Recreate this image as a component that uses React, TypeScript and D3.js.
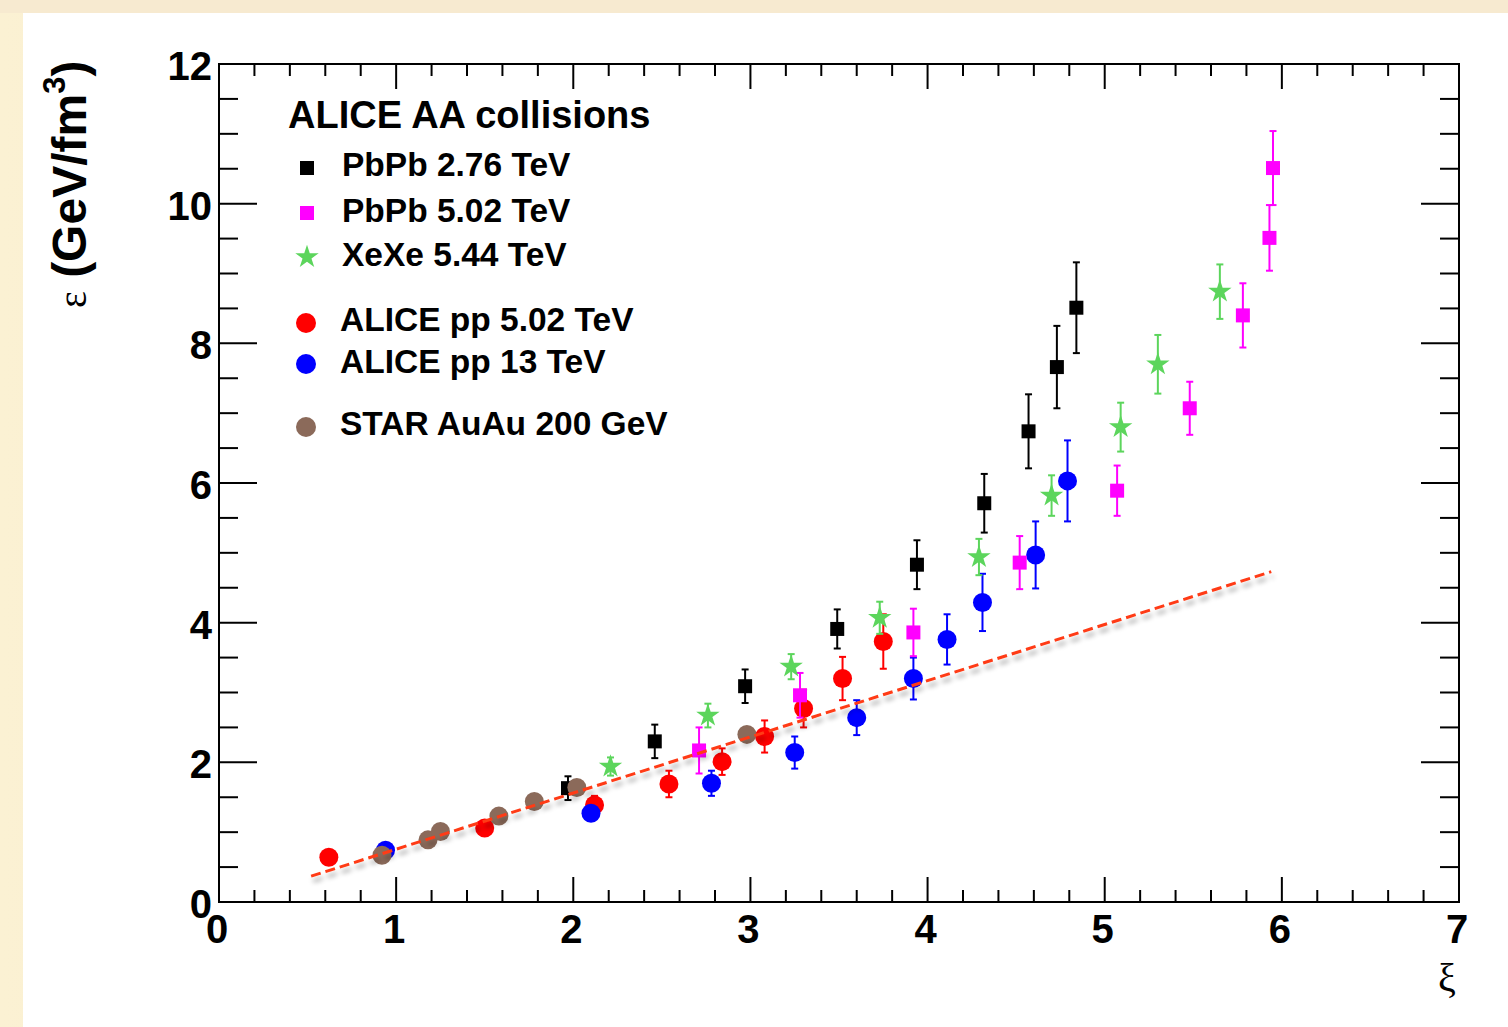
import React from 'react';
import * as d3 from 'd3';

// PbPb 2.76 TeV (black squares)
const pbpb276X = [1.97, 2.46, 2.97, 3.49, 3.94, 4.32, 4.57, 4.73, 4.84];
const pbpb276Y = [1.63, 2.30, 3.09, 3.91, 4.83, 5.71, 6.74, 7.66, 8.51];
const pbpb276Err = [0.17, 0.24, 0.24, 0.28, 0.35, 0.42, 0.53, 0.59, 0.65];

// PbPb 5.02 TeV (magenta squares)
const pbpb502X = [2.71, 3.28, 3.92, 4.52, 5.07, 5.48, 5.78, 5.93, 5.95];
const pbpb502Y = [2.17, 2.96, 3.86, 4.86, 5.89, 7.07, 8.40, 9.51, 10.51];
const pbpb502Err = [0.33, 0.32, 0.34, 0.38, 0.36, 0.38, 0.46, 0.47, 0.53];

// XeXe 5.44 TeV (green stars)
const xexeX = [2.21, 2.76, 3.23, 3.73, 4.29, 4.70, 5.09, 5.30, 5.65];
const xexeY = [1.94, 2.67, 3.37, 4.07, 4.94, 5.82, 6.80, 7.70, 8.74];
const xexeErr = [0.13, 0.17, 0.18, 0.23, 0.26, 0.29, 0.35, 0.42, 0.39];

// ALICE pp 5.02 TeV (red circles)
const pp502X = [0.62, 1.50, 2.12, 2.54, 2.84, 3.08, 3.30, 3.52, 3.75];
const pp502Y = [0.64, 1.06, 1.39, 1.69, 2.01, 2.37, 2.77, 3.20, 3.73];
const pp502Err = [0.04, 0.05, 0.13, 0.19, 0.19, 0.23, 0.27, 0.31, 0.39];

// ALICE pp 13 TeV (blue circles)
const pp13X = [0.94, 2.10, 2.78, 3.25, 3.60, 3.92, 4.11, 4.31, 4.61, 4.79];
const pp13Y = [0.74, 1.27, 1.70, 2.14, 2.64, 3.20, 3.76, 4.29, 4.97, 6.03];
const pp13Err = [0.05, 0.10, 0.18, 0.23, 0.25, 0.30, 0.36, 0.41, 0.48, 0.58];

// STAR AuAu 200 GeV (brown circles)
const starX = [0.92, 1.18, 1.25, 1.58, 1.78, 2.02, 2.98];
const starY = [0.67, 0.89, 1.01, 1.23, 1.44, 1.64, 2.40];

// linear fit (dashed)
const fitX = [0.52, 5.94];
const fitY = [0.37, 4.73];

const xTicks = [0, 1, 2, 3, 4, 5, 6, 7];
const yTicks = [0, 2, 4, 6, 8, 10, 12];

const legendTitle = 'ALICE AA collisions';
const legendLabels = [
  'PbPb 2.76 TeV',
  'PbPb 5.02 TeV',
  'XeXe 5.44 TeV',
  'ALICE pp 5.02 TeV',
  'ALICE pp 13 TeV',
  'STAR AuAu 200 GeV',
];

const W = 1508;
const H = 1027;
const FONT = '"Liberation Sans", Arial, Helvetica, sans-serif';
const SERIF = '"Liberation Serif", "DejaVu Serif", serif';

export default function App() {
  const margin = { left: 219, right: 1459, top: 64, bottom: 902 };

  const x = d3.scaleLinear().domain([0, 7]).range([margin.left, margin.right]);
  const y = d3.scaleLinear().domain([0, 12]).range([margin.bottom, margin.top]);

  const squarePath = d3.symbol(d3.symbolSquare, 196)() as string;
  const starPath = d3.symbol(d3.symbolStar, 170)() as string;

  const errorBars = (xs: number[], ys: number[], es: number[], color: string, key: string) =>
    xs.map((xv, i) => {
      const px = x(xv);
      const y1 = y(ys[i] + es[i]);
      const y2 = y(ys[i] - es[i]);
      return (
        <g key={key + 'e' + i} stroke={color} strokeWidth={2}>
          <line x1={px} x2={px} y1={y1} y2={y2} />
          <line x1={px - 3.5} x2={px + 3.5} y1={y1} y2={y1} />
          <line x1={px - 3.5} x2={px + 3.5} y1={y2} y2={y2} />
        </g>
      );
    });

  const circles = (xs: number[], ys: number[], color: string, key: string) =>
    xs.map((xv, i) => (
      <circle key={key + i} cx={x(xv)} cy={y(ys[i])} r={9.5} fill={color} />
    ));

  const symbols = (xs: number[], ys: number[], path: string, color: string, key: string) =>
    xs.map((xv, i) => (
      <path key={key + i} d={path} transform={`translate(${x(xv)},${y(ys[i])})`} fill={color} />
    ));

  // minor ticks every 0.2 on x, every 0.5 on y
  const xMinor = d3.range(0, 36).map((i) => i * 0.2);
  const yMinor = d3.range(0, 25).map((i) => i * 0.5);

  const fitLine = d3
    .line<number>()
    .x((d) => x(d))
    .y((_, i) => y(fitY[i]));

  const legendX = 307;
  const legendTextX = 342;
  const legendMarkY = [168, 213, 257, 323, 364, 427];
  const legendBase = [176, 222, 266, 331, 373, 435];

  return (
    <svg width={W} height={H} style={{ position: 'absolute', left: 0, top: 0 }} fontFamily={FONT}>
      <defs>
        <filter id="shadow" x="-10%" y="-10%" width="120%" height="140%">
          <feGaussianBlur in="SourceAlpha" stdDeviation="2.5" />
          <feOffset dx="2" dy="5" result="b" />
          <feComponentTransfer>
            <feFuncA type="linear" slope="0.35" />
          </feComponentTransfer>
          <feMerge>
            <feMergeNode />
            <feMergeNode in="SourceGraphic" />
          </feMerge>
        </filter>
        <linearGradient id="creamL" x1="0" x2="1" y1="0" y2="0">
          <stop offset="0" stopColor="#fbf1d3" />
          <stop offset="1" stopColor="#f4e4b8" />
        </linearGradient>
      </defs>
      <rect x={0} y={0} width={W} height={H} fill="url(#creamL)" />
      <rect x={0} y={0} width={W} height={13} fill="#f7ead0" />
      <rect x={23} y={13} width={W - 23} height={H - 13} fill="#ffffff" />

      {/* frame */}
      <rect
        x={margin.left}
        y={margin.top}
        width={margin.right - margin.left}
        height={margin.bottom - margin.top}
        fill="none"
        stroke="#000"
        strokeWidth={2}
      />

      {/* ticks on all four sides */}
      <g stroke="#000" strokeWidth={2}>
        {xMinor.map((v, i) => {
          const major = i % 5 === 0;
          const len = major ? 25 : 12;
          return (
            <g key={'xt' + i}>
              <line x1={x(v)} x2={x(v)} y1={margin.bottom} y2={margin.bottom - len} />
              <line x1={x(v)} x2={x(v)} y1={margin.top} y2={margin.top + len} />
            </g>
          );
        })}
        {yMinor.map((v, i) => {
          const major = i % 4 === 0;
          const len = major ? 38 : 19;
          return (
            <g key={'yt' + i}>
              <line x1={margin.left} x2={margin.left + len} y1={y(v)} y2={y(v)} />
              <line x1={margin.right} x2={margin.right - len} y1={y(v)} y2={y(v)} />
            </g>
          );
        })}
      </g>

      {/* tick labels */}
      <g fontSize={40} fontWeight="bold" fill="#000">
        {xTicks.map((t) => (
          <text key={'xl' + t} x={x(t) - 2} y={margin.bottom + 41} textAnchor="middle">
            {t}
          </text>
        ))}
        {yTicks.map((t) => (
          <text key={'yl' + t} x={margin.left - 7} y={y(t) + 16} textAnchor="end">
            {t}
          </text>
        ))}
      </g>

      {/* axis titles */}
      <text transform="translate(86,308) rotate(-90)" fontSize={48} fontWeight="bold" fill="#000">
        <tspan fontFamily={SERIF} fontWeight="normal" fontSize={40}>
          ε
        </tspan>
        <tspan> (GeV/fm</tspan>
        <tspan fontSize={31} dy={-21}>3</tspan>
        <tspan dy={21}>)</tspan>
      </text>
      <text x={1447} y={991} textAnchor="middle" fontSize={40} fontFamily={SERIF} fill="#000">
        ξ
      </text>

      {/* data */}
      {errorBars(pbpb276X, pbpb276Y, pbpb276Err, '#000000', 'k')}
      {symbols(pbpb276X, pbpb276Y, squarePath, '#000000', 'ks')}

      {errorBars(pp502X, pp502Y, pp502Err, '#ff0000', 'r')}
      {circles(pp502X, pp502Y, '#ff0000', 'rc')}

      {errorBars(pp13X, pp13Y, pp13Err, '#0000ff', 'b')}
      {circles(pp13X, pp13Y, '#0000ff', 'bc')}

      {circles(starX, starY, '#8b6a5a', 'sc')}

      {errorBars(pbpb502X, pbpb502Y, pbpb502Err, '#ff00ff', 'm')}
      {symbols(pbpb502X, pbpb502Y, squarePath, '#ff00ff', 'ms')}

      {errorBars(xexeX, xexeY, xexeErr, '#5cd55c', 'g')}
      {symbols(xexeX, xexeY, starPath, '#5cd55c', 'gs')}

      <path
        d={fitLine(fitX) as string}
        fill="none"
        stroke="#ff3a14"
        strokeWidth={3}
        strokeDasharray="10,5"
        filter="url(#shadow)"
      />

      {/* legend */}
      <text x={288} y={128} fontSize={38} fontWeight="bold" fill="#000">
        {legendTitle}
      </text>
      <path d={squarePath} transform={`translate(${legendX},${legendMarkY[0]})`} fill="#000000" />
      <path d={squarePath} transform={`translate(${legendX},${legendMarkY[1]})`} fill="#ff00ff" />
      <path d={starPath} transform={`translate(${legendX},${legendMarkY[2]})`} fill="#5cd55c" />
      <circle cx={legendX - 1} cy={legendMarkY[3]} r={10} fill="#ff0000" />
      <circle cx={legendX - 1} cy={legendMarkY[4]} r={10} fill="#0000ff" />
      <circle cx={legendX - 1} cy={legendMarkY[5]} r={10} fill="#8b6a5a" />
      {legendLabels.map((l, i) => (
        <text
          key={'lg' + i}
          x={i < 3 ? legendTextX : legendTextX - 2}
          y={legendBase[i]}
          fontSize={33.5}
          fontWeight="bold"
          fill="#000"
        >
          {l}
        </text>
      ))}
    </svg>
  );
}
